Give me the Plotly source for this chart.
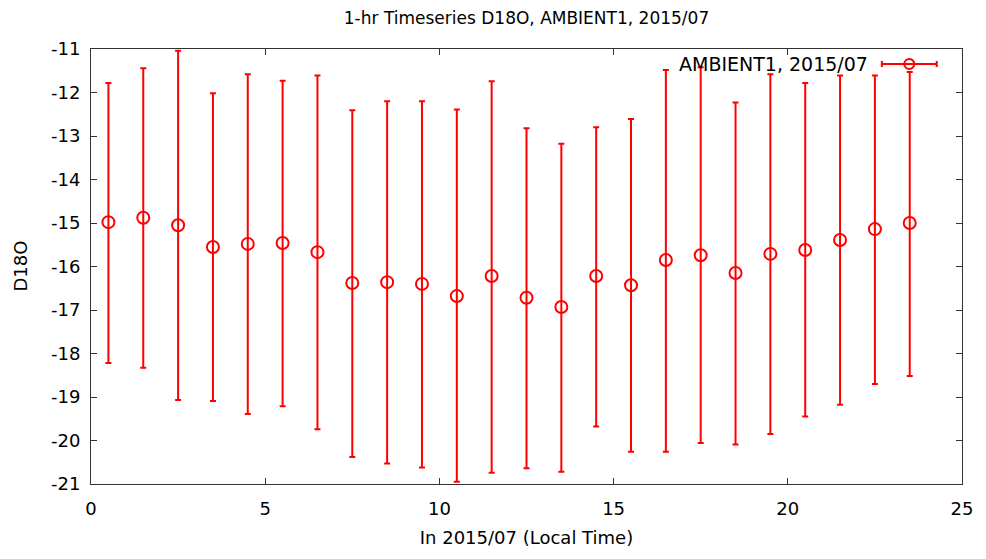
import numpy as np
import plotly.graph_objects as go

hours = [0.5, 1.5, 2.5, 3.5, 4.5, 5.5, 6.5, 7.5, 8.5, 9.5, 10.5, 11.5,
         12.5, 13.5, 14.5, 15.5, 16.5, 17.5, 18.5, 19.5, 20.5, 21.5, 22.5, 23.5]
d18o_mean = [-14.98, -14.88, -15.05, -15.55, -15.48, -15.46, -15.67, -16.38,
             -16.36, -16.40, -16.68, -16.22, -16.72, -16.93, -16.22, -16.43,
             -15.85, -15.74, -16.15, -15.71, -15.62, -15.39, -15.14, -15.00]
d18o_high = [-11.78, -11.44, -11.04, -12.02, -11.58, -11.73, -11.61, -12.41,
             -12.20, -12.20, -12.39, -11.74, -12.82, -13.18, -12.80, -12.61,
             -11.48, -11.42, -12.23, -11.58, -11.78, -11.61, -11.61, -11.53]
d18o_low = [-18.22, -18.33, -19.07, -19.09, -19.39, -19.21, -19.74, -20.38,
            -20.53, -20.62, -20.95, -20.74, -20.64, -20.72, -19.68, -20.26,
            -20.26, -20.06, -20.09, -19.85, -19.45, -19.18, -18.70, -18.52]
x_ticks = [0, 5, 10, 15, 20, 25]
y_ticks = [-21, -20, -19, -18, -17, -16, -15, -14, -13, -12, -11]
x_tick_labels = ["0", "5", "10", "15", "20", "25"]
y_tick_labels = ["-21", "-20", "-19", "-18", "-17", "-16", "-15", "-14", "-13", "-12", "-11"]

series_name = "AMBIENT1, 2015/07"
RED = "#ff0000"
FONT = "DejaVu Sans"

mean = np.array(d18o_mean)
err_plus = np.array(d18o_high) - mean
err_minus = mean - np.array(d18o_low)

fig = go.Figure()
fig.add_trace(go.Scatter(
    x=hours, y=d18o_mean, mode="markers", name=series_name,
    marker=dict(symbol="circle-open", size=12, color=RED, line=dict(width=2, color=RED)),
    error_y=dict(type="data", symmetric=False, array=err_plus, arrayminus=err_minus,
                 color=RED, thickness=2, width=3),
    showlegend=False,
))

axis_common = dict(
    showgrid=False, zeroline=False, showline=True, linecolor="#333333", linewidth=1,
    mirror="allticks", ticks="inside", ticklen=6, tickcolor="#333333",
    tickfont=dict(family=FONT, size=18, color="black"),
)

fig.update_xaxes(range=[0, 25], tickvals=x_ticks, ticktext=x_tick_labels,
                 ticklabelstandoff=8,
                 title=dict(text="In 2015/07 (Local Time)", font=dict(family=FONT, size=18, color="black"), standoff=13),
                 **axis_common)
fig.update_yaxes(range=[-21, -11], tickvals=y_ticks, ticktext=y_tick_labels,
                 ticklabelstandoff=6, **axis_common)

# y-axis title placed like gnuplot's, far left
fig.add_annotation(xref="paper", yref="paper", x=-0.0815, y=0.5, text="D18O",
                   textangle=-90, showarrow=False, xanchor="center", yanchor="middle",
                   font=dict(family=FONT, size=18, color="black"))

# gnuplot-style key: text on the left, sample on the right
ky = 0.9655
fig.add_annotation(xref="paper", yref="paper", x=0.894, y=ky, text=series_name,
                   showarrow=False, xanchor="right", yanchor="middle",
                   font=dict(family=FONT, size=19, color="black"))
fig.add_shape(type="line", xref="paper", yref="paper", x0=0.908, x1=0.971, y0=ky, y1=ky,
              line=dict(color=RED, width=2))
for kx in (0.908, 0.971):
    fig.add_shape(type="line", xref="paper", yref="paper", xsizemode="pixel", ysizemode="pixel",
                  xanchor=kx, yanchor=ky, x0=0, x1=0, y0=-3, y1=3, line=dict(color=RED, width=2))
fig.add_shape(type="circle", xref="paper", yref="paper", xsizemode="pixel", ysizemode="pixel",
              xanchor=0.9395, yanchor=ky, x0=-5, x1=5, y0=-5, y1=5, line=dict(color=RED, width=2))

fig.update_layout(
    width=978, height=551,
    margin=dict(l=83, r=24, t=41, b=75),
    paper_bgcolor="white", plot_bgcolor="white",
    title=dict(text="1-hr Timeseries D18O, AMBIENT1, 2015/07", xref="paper", x=0.5, xanchor="center",
               y=0.981, yanchor="middle", font=dict(family=FONT, size=17, color="black")),
    font=dict(family=FONT),
)

fig.write_html("out.html")
